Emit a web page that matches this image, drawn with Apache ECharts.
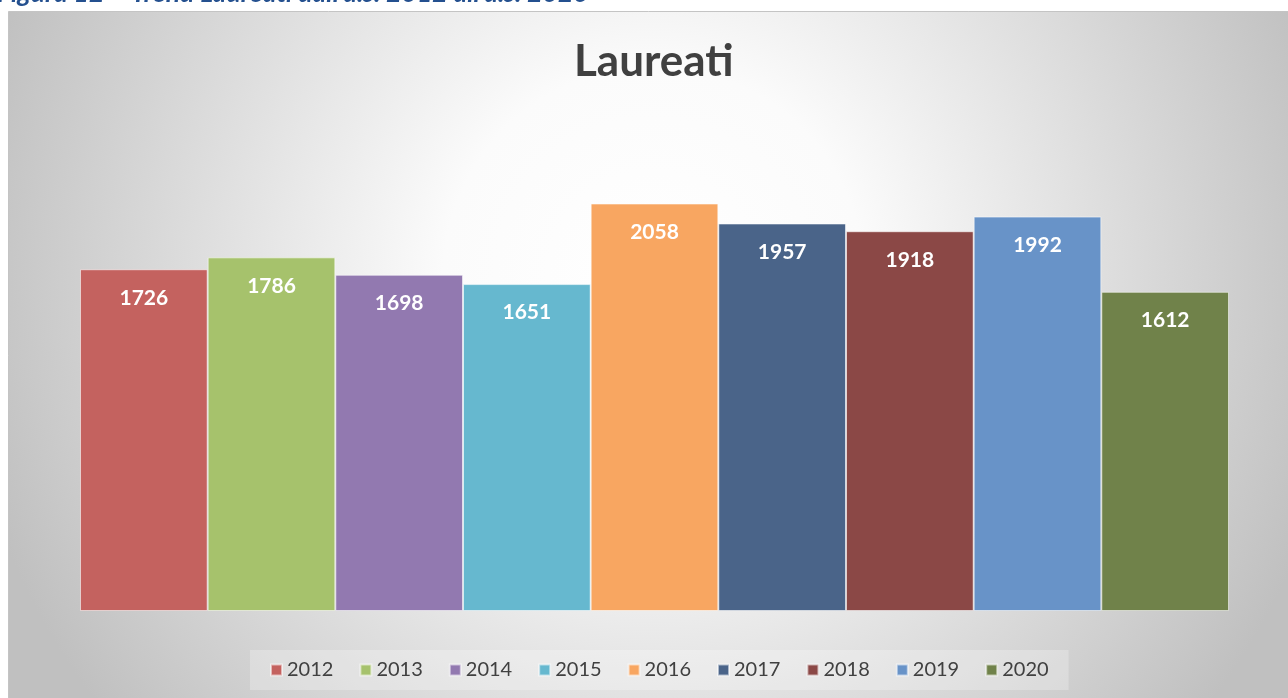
<!DOCTYPE html>
<html>
<head>
<meta charset="utf-8">
<style>
  html, body { margin: 0; padding: 0; background: #fff; }
  #main { width: 1288px; height: 698px; }
</style>
<script src="https://cdn.jsdelivr.net/npm/echarts@6/dist/echarts.min.js"></script>
</head>
<body>
<div id="main"></div>
<script>
// anni accademici e numero di laureati
var years = ['2012', '2013', '2014', '2015', '2016', '2017', '2018', '2019', '2020']
var laureati = [1726, 1786, 1698, 1651, 2058, 1957, 1918, 1992, 1612]
var palette = ['#c4625f', '#a6c26c', '#9279b0', '#66b8cf', '#f8a661', '#4a6489', '#8b4846', '#6893c8', '#70824a']

var chart = echarts.init(document.getElementById('main'))

// una serie per anno, come nel grafico originale
var seriesData = years.map(function(y, i) {
  return {
    name: y,
    type: 'bar',
    data: [laureati[i]],
    barGap: '0%',
    barCategoryGap: '0%',
    itemStyle: {
      color: palette[i],
      borderColor: 'rgba(255,255,255,0.55)',
      borderWidth: 1
    },
    label: {
      show: true,
      position: 'insideTop',
      distance: 18,
      color: '#fff',
      fontWeight: 'bold',
      fontSize: 21,
      fontFamily: 'Lato'
    }
  }
})

chart.setOption({
  animation: false,
  color: palette,
  graphic: [
    {
      type: 'rect',
      z: -10,
      shape: { x: 8.5, y: 11.5, width: 1290, height: 700 },
      style: {
        fill: {
          type: 'radial', x: 0.5, y: 0.38, r: 1.0,
          colorStops: [
            { offset: 0, color: '#ffffff' },
            { offset: 0.3, color: '#fbfbfb' },
            { offset: 1, color: '#c0c0c0' }
          ]
        },
        stroke: '#c4c4c4',
        lineWidth: 1
      }
    },
    {
      // didascalia tagliata in alto, come nel documento
      type: 'text',
      left: -3,
      top: -20,
      style: {
        text: 'Figura 12 – Trend Laureati dall\u2019a.s. 2012 all\u2019a.s. 2020',
        fill: '#24508f',
        font: 'italic bold 26.5px Lato'
      }
    }
  ],
  title: {
    text: 'Laureati',
    left: 569,
    top: 35,
    textStyle: {
      color: '#404040',
      fontSize: 44,
      fontWeight: 'bold',
      fontFamily: 'Lato'
    }
  },
  legend: {
    data: years,
    bottom: 8,
    left: 250,
    icon: 'rect',
    itemWidth: 11,
    itemHeight: 11,
    itemGap: 26,
    padding: [10, 20],
    backgroundColor: 'rgba(255,255,255,0.25)',
    textStyle: {
      color: '#404040',
      fontSize: 20,
      fontFamily: 'Lato'
    }
  },
  grid: {
    left: 80,
    right: 59,
    top: 116,
    bottom: 87
  },
  xAxis: {
    type: 'category',
    data: ['Laureati'],
    show: false
  },
  yAxis: {
    type: 'value',
    min: 0,
    max: 2500,
    show: false
  },
  series: seriesData
})
</script>
</body>
</html>
